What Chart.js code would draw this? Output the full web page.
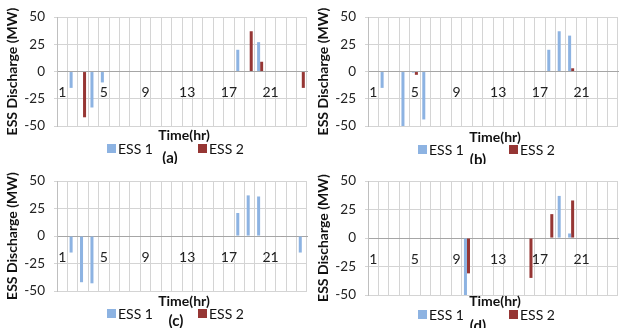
<!DOCTYPE html>
<html>
<head>
<meta charset="utf-8">
<script src="https://cdn.jsdelivr.net/npm/chart.js@4"></script>
<style>
  body { margin: 0; background: #fff; }
  .wrap { position: relative; width: 622px; height: 328px; }
  canvas { position: absolute; }
</style>
</head>
<body>
<div class="wrap">
  <canvas id="chartA" width="311" height="164" style="left:0;top:0"></canvas>
  <canvas id="chartB" width="311" height="164" style="left:311px;top:0"></canvas>
  <canvas id="chartC" width="311" height="164" style="left:0;top:164px"></canvas>
  <canvas id="chartD" width="311" height="164" style="left:311px;top:164px"></canvas>
</div>
<script>
// hours 1..24
const hours = ['1','2','3','4','5','6','7','8','9','10','11','12','13','14','15','16','17','18','19','20','21','22','23','24'];
const yTicks = [-50, -25, 0, 25, 50];
const seriesNames = ['ESS 1', 'ESS 2'];

// discharge in MW
const essA1 = [0, -15, 0, -33, -10, 0, 0, 0, 0, 0, 0, 0, 0, 0, 0, 0, 0, 20, 0, 27, 0, 0, 0, 0];
const essA2 = [0, 0, -42, 0, 0, 0, 0, 0, 0, 0, 0, 0, 0, 0, 0, 0, 0, 0, 37, 9, 0, 0, 0, -15];

const essB1 = [0, -15, 0, -50, -1, -44, 0, 0, 0, 0, 0, 0, 0, 0, 0, 0, 0, 20, 37, 33, 0, 0, 0, 0];
const essB2 = [0, 0, 0, 0, -3, 0, 0, 0, 0, 0, 0, 0, 0, 0, 0, 0, 0, 0, 0, 3, 0, 0, 0, 0];

const essC1 = [0, -15, -42, -43, 0, 0, 0, 0, 0, 0, 0, 0, 0, 0, 0, 0, 0, 21, 37, 36, 0, 0, 0, -15];
const essC2 = [0, 0, 0, 0, 0, 0, 0, 0, 0, 0, 0, 0, 0, 0, 0, 0, 0, 0, 0, 0, 0, -0.5, 0, 0];

const essD1 = [0, 0, 0, 0, 0, 0, 0, 0, 0, -50, 0, 0, 0, 0, 0, 0, 0, 0, 37, 4, 0, 0, 0, 0];
const essD2 = [0, 0, 0, 0, 0, 0, 0, 0, 0, -31, 0, 0, 0, 0, 0, -35, 0, 21, 0, 33, 0, 0, 0, 0];

const blue = '#8db3e2';
const red = '#963634';
const grid = '#d4d4d4';
const font = 'Lato';

// x title, legend and the (a)/(b) tag are placed by hand like in the excel figure
const panelText = {
  id: 'panelText',
  afterDraw(chart, args, opts) {
    const c = chart.ctx;
    c.save();
    c.fillStyle = '#111';
    c.textBaseline = 'middle';
    c.textAlign = 'center';
    c.font = 'bold 14px ' + font;
    c.fillText('Time(hr)', 184, opts.titleY);

    c.textAlign = 'left';
    c.font = '14px ' + font;
    chart.data.datasets.forEach((ds, i) => {
      const x = i === 0 ? 107 : 198;
      c.fillStyle = ds.backgroundColor;
      c.fillRect(x, opts.legendY - 4, 9, 9);
      c.fillStyle = '#111';
      c.fillText(ds.label, x + 11, opts.legendY + 1);
    });

    c.textAlign = 'center';
    c.font = 'bold 15px ' + font;
    c.fillText(opts.tag, opts.tagX, opts.tagY);
    c.restore();
  }
};

function makePanel(id, ess1, ess2, text) {
  new Chart(document.getElementById(id), {
    type: 'bar',
    data: {
      labels: hours,
      datasets: [
        { label: seriesNames[0], data: ess1, backgroundColor: blue },
        { label: seriesNames[1], data: ess2, backgroundColor: red }
      ]
    },
    options: {
      responsive: false,
      animation: false,
      layout: { padding: { top: text.top, right: 4, bottom: text.bottom, left: 0 } },
      categoryPercentage: 0.58,
      barPercentage: 1,
      plugins: {
        legend: { display: false },
        tooltip: { enabled: false },
        panelText: text
      },
      scales: {
        x: {
          position: { y: 0 },
          grid: { color: grid, tickLength: 4 },
          border: { color: '#a6a6a6' },
          ticks: {
            autoSkip: false,
            maxRotation: 0,
            padding: 9,
            color: '#222',
            font: { family: font, size: 14 },
            callback: function (v, i) { return i % 4 === 0 ? this.getLabelForValue(v) : ''; }
          }
        },
        y: {
          min: -50,
          max: 50,
          afterFit: s => { s.width = 57; },
          afterBuildTicks: s => { s.ticks = yTicks.map(v => ({ value: v })); },
          grid: { color: grid, tickLength: 3 },
          border: { color: '#bfbfbf' },
          ticks: { padding: 9, color: '#222', font: { family: font, size: 13.5 } },
          title: {
            display: true,
            text: 'ESS Discharge (MW)',
            color: '#111',
            padding: { top: 4, bottom: 0 },
            font: { family: font, size: 14, weight: 'bold' }
          }
        }
      }
    },
    plugins: [panelText]
  });
}

makePanel('chartA', essA1, essA2, { tag: '(a)', tagX: 170, tagY: 158, titleY: 135, legendY: 148, top: 12, bottom: 38 });
makePanel('chartB', essB1, essB2, { tag: '(b)', tagX: 167, tagY: 160, titleY: 137, legendY: 149, top: 12, bottom: 38 });
makePanel('chartC', essC1, essC2, { tag: '(c)', tagX: 176, tagY: 157, titleY: 137, legendY: 149, top: 10, bottom: 37 });
makePanel('chartD', essD1, essD2, { tag: '(d)', tagX: 167, tagY: 162, titleY: 137, legendY: 150, top: 12, bottom: 33 });
</script>
</body>
</html>
